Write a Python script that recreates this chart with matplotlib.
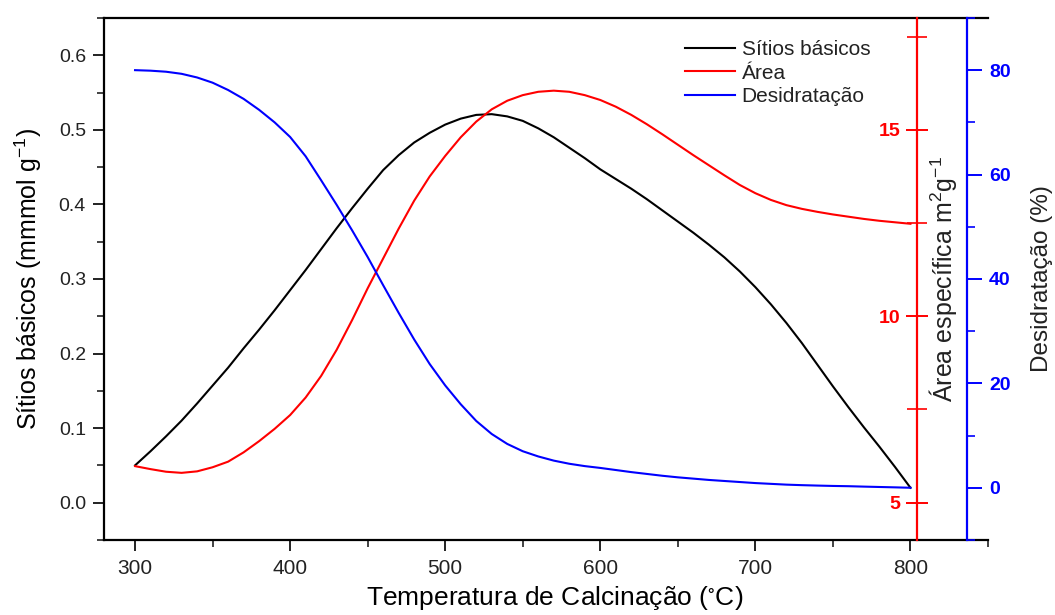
import numpy as np
import matplotlib
matplotlib.use("Agg")
import matplotlib.pyplot as plt
from matplotlib.ticker import MultipleLocator

# Fonts
plt.rcParams['font.family'] = ['Liberation Sans', 'DejaVu Sans']
plt.rcParams['mathtext.fontset'] = 'custom'
plt.rcParams['mathtext.rm'] = 'Liberation Sans'
plt.rcParams['mathtext.default'] = 'regular'

# Data
temperatura = [300, 310, 320, 330, 340, 350, 360, 370, 380, 390,
               400, 410, 420, 430, 440, 450, 460, 470, 480, 490,
               500, 510, 520, 530, 540, 550, 560, 570, 580, 590,
               600, 610, 620, 630, 640, 650, 660, 670, 680, 690,
               700, 710, 720, 730, 740, 750, 760, 770, 780, 790, 800]
sitios = [0.050, 0.069, 0.089, 0.110, 0.133, 0.157, 0.181, 0.207, 0.232, 0.258,
          0.285, 0.312, 0.340, 0.368, 0.395, 0.421, 0.446, 0.466, 0.483, 0.496,
          0.507, 0.515, 0.520, 0.521, 0.518, 0.512, 0.502, 0.490, 0.476, 0.462,
          0.447, 0.434, 0.421, 0.407, 0.392, 0.377, 0.362, 0.346, 0.329, 0.310,
          0.289, 0.266, 0.241, 0.214, 0.185, 0.156, 0.128, 0.101, 0.075, 0.048, 0.020]
area = [5.98, 5.90, 5.83, 5.80, 5.84, 5.95, 6.10, 6.35, 6.65, 6.98,
        7.35, 7.82, 8.40, 9.10, 9.90, 10.75, 11.55, 12.35, 13.10, 13.75,
        14.30, 14.80, 15.22, 15.55, 15.78, 15.93, 16.02, 16.05, 16.02, 15.93,
        15.80, 15.62, 15.40, 15.15, 14.88, 14.60, 14.32, 14.05, 13.78, 13.52,
        13.30, 13.12, 12.98, 12.88, 12.80, 12.73, 12.67, 12.61, 12.56, 12.52, 12.48]
desidratacao = [80.0, 79.9, 79.7, 79.3, 78.6, 77.6, 76.2, 74.5, 72.4, 70.0,
                67.2, 63.5, 58.9, 54.2, 49.3, 44.2, 38.8, 33.5, 28.4, 23.7,
                19.6, 16.0, 12.8, 10.3, 8.4, 7.0, 6.0, 5.2, 4.6, 4.15,
                3.8, 3.4, 3.0, 2.65, 2.3, 2.0, 1.75, 1.5, 1.3, 1.1,
                0.9, 0.75, 0.6, 0.5, 0.42, 0.35, 0.3, 0.22, 0.15, 0.08, 0.0]

fig = plt.figure(figsize=(10.55, 6.15), dpi=100)
ax = fig.add_axes([0.0986, 0.122, 0.8379, 0.8488])
ax2 = ax.twinx()
ax3 = ax.twinx()

l1, = ax.plot(temperatura, sitios, color="black", lw=1.5, label="Sítios básicos")
l2, = ax2.plot(temperatura, area, color="red", lw=1.5, label="Área")
l3, = ax3.plot(temperatura, desidratacao, color="blue", lw=1.5, label="Desidratação")

# Main axes
ax.set_xlim(280, 850)
ax.set_ylim(-0.05, 0.65)
ax.xaxis.set_major_locator(MultipleLocator(100))
ax.xaxis.set_minor_locator(MultipleLocator(50))
ax.yaxis.set_major_locator(MultipleLocator(0.1))
ax.yaxis.set_minor_locator(MultipleLocator(0.05))
ax.spines['right'].set_visible(False)
for s in ['top', 'left', 'bottom']:
    ax.spines[s].set_linewidth(1.6)
ax.tick_params(which='major', direction='out', length=8, width=1.4, colors='#222222', pad=5)
ax.tick_params(which='minor', direction='out', length=5, width=1.2, colors='#222222')
ax.tick_params(axis='x', labelsize=15, pad=6)
ax.tick_params(axis='y', labelsize=14)
ax.set_xlabel("Temperatura de Calcinação ($^{\\circ}$C)", fontsize=19)
ax.xaxis.set_label_coords(0.51, -0.085)
ax.set_ylabel("Sítios básicos (mmmol g$^{-1}$)", fontsize=18, va='center', ha='center')
ax.yaxis.set_label_coords(-0.086, 0.5)

# Area axis (red)
ax2.set_ylim(4, 18)
for s in ['top', 'bottom', 'right']:
    ax2.spines[s].set_visible(False)
ax2.spines['left'].set_visible(True)
ax2.spines['left'].set_position(('axes', 0.92))
ax2.spines['left'].set_color('red')
ax2.spines['left'].set_linewidth(1.6)
ax2.yaxis.set_ticks_position('left')
ax2.yaxis.set_major_locator(MultipleLocator(5))
ax2.yaxis.set_minor_locator(MultipleLocator(2.5))
ax2.tick_params(axis='y', which='major', direction='inout', length=16, width=1.4,
                colors='red', labelsize=14, pad=4)
ax2.tick_params(axis='y', which='minor', direction='inout', length=14, width=1.2, colors='red')
for t in ax2.get_yticklabels():
    t.set_fontweight('bold')
ax2.set_ylabel("Área específica m$^{2}$g$^{-1}$", fontsize=18, color='#222222',
               va='center', ha='center')
ax2.yaxis.set_label_coords(0.949, 0.5)

# Dehydration axis (blue)
ax3.set_ylim(-10, 90)
for s in ['top', 'bottom', 'left']:
    ax3.spines[s].set_visible(False)
ax3.spines['right'].set_position(('axes', 0.976))
ax3.spines['right'].set_color('blue')
ax3.spines['right'].set_linewidth(1.6)
ax3.yaxis.set_major_locator(MultipleLocator(20))
ax3.yaxis.set_minor_locator(MultipleLocator(10))
ax3.tick_params(axis='y', which='major', direction='out', length=11, width=1.4,
                colors='blue', labelsize=14, pad=5)
ax3.tick_params(axis='y', which='minor', direction='out', length=6, width=1.2, colors='blue')
for t in ax3.get_yticklabels():
    t.set_fontweight('bold')
ax3.set_ylabel("Desidratação (%)", fontsize=17.5, color='#222222',
               va='center', ha='center')
ax3.yaxis.set_label_coords(1.061, 0.5)

leg = ax3.legend(handles=[l1, l2, l3], loc='upper left', bbox_to_anchor=(0.649, 0.935),
                 bbox_transform=fig.transFigure, frameon=False, fontsize=15,
                 borderpad=0, borderaxespad=0, handlelength=2.4, handletextpad=0.33,
                 labelspacing=0.22)
for t in leg.get_texts():
    t.set_color('#222222')

fig.savefig("out.png", dpi=100)
